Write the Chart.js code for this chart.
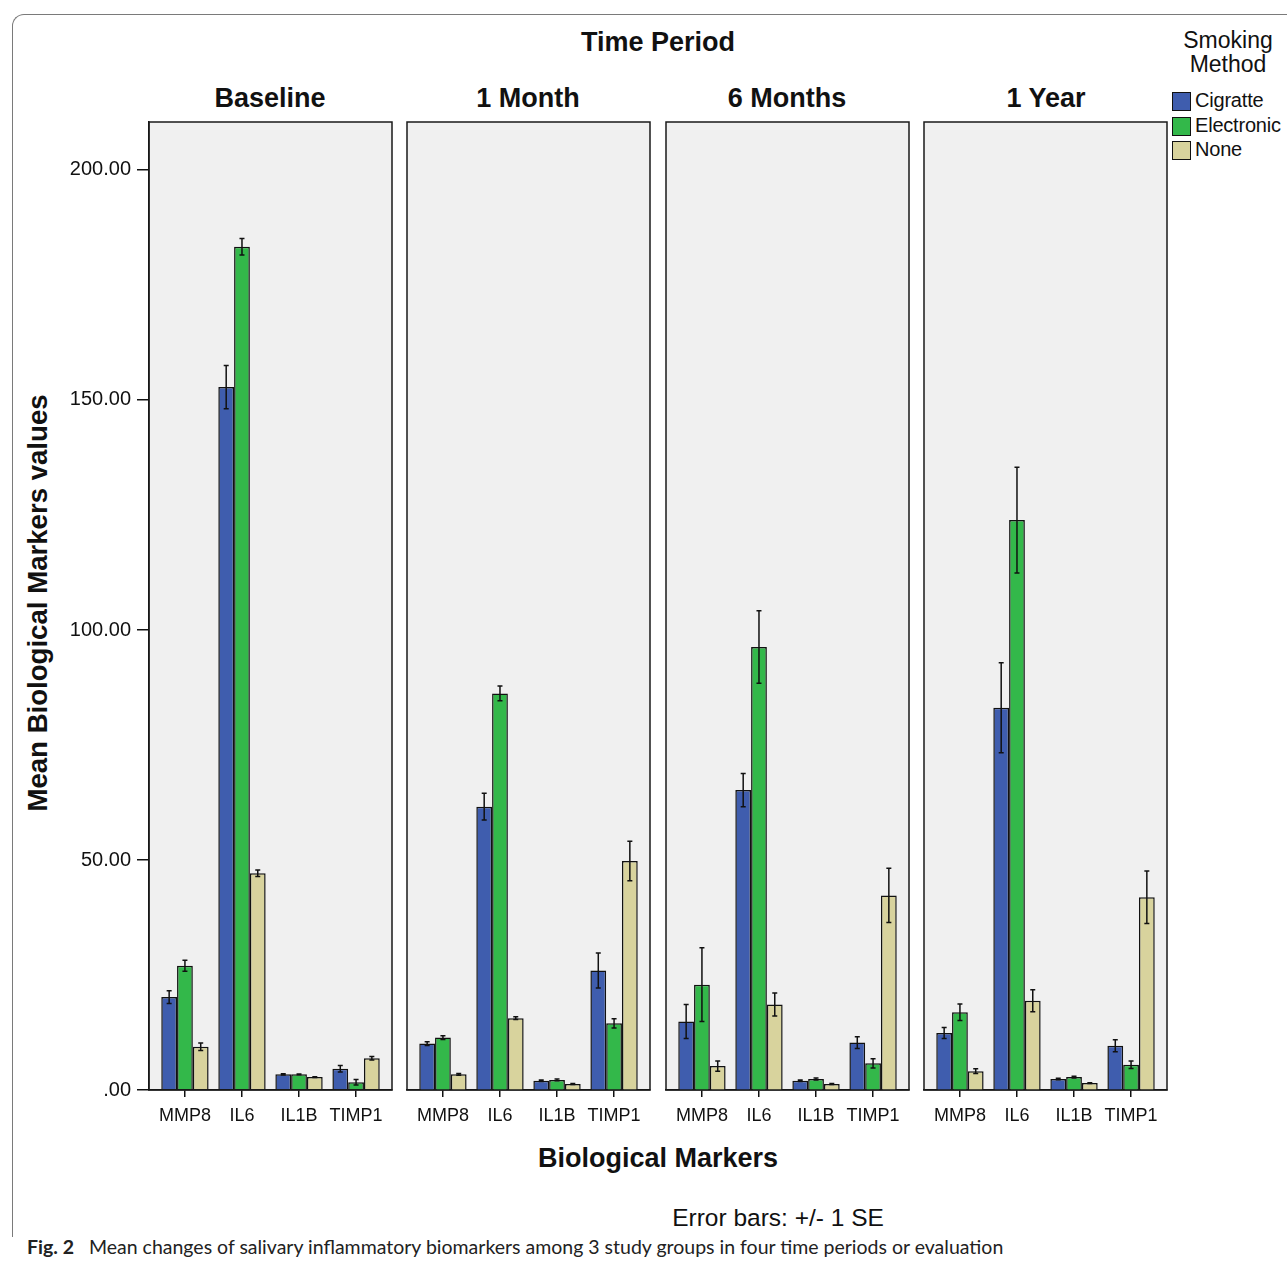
<!DOCTYPE html>
<html><head><meta charset="utf-8">
<script src="https://cdn.jsdelivr.net/npm/chart.js@4/dist/chart.umd.min.js"></script>
<style>
body{margin:0;background:#fff;width:1287px;height:1267px;position:relative;overflow:hidden;font-family:"Liberation Sans",Arial,sans-serif;color:#111;}
canvas{position:absolute;}
.t{position:absolute;white-space:nowrap;transform:translate(-50%,-50%);}
.b{font-weight:bold;font-size:27px;}
.frame{position:absolute;left:12px;top:14px;width:1300px;height:1222px;border-left:1.5px solid #7a7a7a;border-top:1.5px solid #7a7a7a;border-top-left-radius:12px;}
.lg{position:absolute;left:1172px;font-size:20px;line-height:19px;}
.lg span.box{position:absolute;left:0;top:0;width:17px;height:17px;border:1px solid #111;}
.lg span.txt{position:absolute;left:23px;top:-1px;white-space:nowrap;letter-spacing:-0.2px;}
.cap{position:absolute;left:27px;top:1235px;font-family:"Lato","Noto Sans",sans-serif;font-size:19.5px;white-space:nowrap;color:#222;}
</style></head>
<body>
<div class="frame"></div>
<div class="t b" style="left:658px;top:42px;">Time Period</div>
<div class="t b" id="p0" style="left:270px;top:98px;"></div>
<div class="t b" id="p1" style="left:528px;top:98px;"></div>
<div class="t b" id="p2" style="left:787px;top:98px;"></div>
<div class="t b" id="p3" style="left:1046px;top:98px;"></div>
<div class="t b" style="left:38px;top:603px;font-size:27.6px;transform:translate(-50%,-50%) rotate(-90deg);">Mean Biological Markers values</div>
<div class="t b" style="left:658px;top:1158px;">Biological Markers</div>
<div class="t" style="left:778px;top:1218px;font-size:24.5px;">Error bars: +/- 1 SE</div>
<div class="t" style="left:1228px;top:40px;font-size:23px;">Smoking</div>
<div class="t" style="left:1228px;top:64px;font-size:23px;">Method</div>
<div id="legend"></div>
<div class="cap"><b>Fig. 2</b>&nbsp;&nbsp;&nbsp;Mean changes of salivary inflammatory biomarkers among 3 study groups in four time periods or evaluation</div>

<canvas id="c0" width="334" height="1015" style="left:60px;top:120px;"></canvas>
<canvas id="c1" width="247" height="1015" style="left:405px;top:120px;"></canvas>
<canvas id="c2" width="247" height="1015" style="left:664px;top:120px;"></canvas>
<canvas id="c3" width="247" height="1015" style="left:922px;top:120px;"></canvas>

<script>
// ---- data ----
const categories = ['MMP8', 'IL6', 'IL1B', 'TIMP1'];
const periods = ['Baseline', '1 Month', '6 Months', '1 Year'];
const seriesNames = ['Cigratte', 'Electronic', 'None'];
const yTickValues = [0, 50, 100, 150, 200];
const yTickLabels = ['.00', '50.00', '100.00', '150.00', '200.00'];

// rows = periods, columns = categories
const cigaretteMean = [
  [20.2, 152.8, 3.4, 4.6],
  [10.1, 61.6, 2.0, 26.0],
  [14.9, 65.2, 2.0, 10.3],
  [12.4, 83.1, 2.4, 9.6]
];
const cigaretteSE = [
  [1.4, 4.7, 0.15, 0.7],
  [0.4, 2.9, 0.15, 3.8],
  [3.7, 3.6, 0.15, 1.3],
  [1.2, 9.8, 0.15, 1.3]
];
const electronicMean = [
  [27.0, 183.3, 3.4, 1.7],
  [11.4, 86.2, 2.2, 14.5],
  [22.9, 96.3, 2.4, 5.8],
  [16.9, 123.9, 2.8, 5.5]
];
const electronicSE = [
  [1.2, 1.8, 0.1, 0.6],
  [0.4, 1.6, 0.2, 1.0],
  [8.0, 7.9, 0.2, 1.0],
  [1.8, 11.5, 0.2, 0.8]
];
const noneMean = [
  [9.4, 47.1, 2.8, 6.9],
  [3.4, 15.6, 1.3, 49.8],
  [5.2, 18.6, 1.3, 42.3],
  [4.1, 19.4, 1.5, 41.9]
];
const noneSE = [
  [0.8, 0.7, 0.1, 0.4],
  [0.2, 0.3, 0.1, 4.3],
  [1.1, 2.5, 0.1, 5.9],
  [0.5, 2.4, 0.1, 5.7]
];

const colors = ['#3f5dae', '#33b84a', '#d8d39d'];
const FONT = '"Liberation Sans", Arial, sans-serif';

// titles & legend
periods.forEach((p, i) => { document.getElementById('p' + i).textContent = p; });
const lg = document.getElementById('legend');
seriesNames.forEach((n, i) => {
  const d = document.createElement('div');
  d.className = 'lg';
  d.style.top = (92 + i * 24.5) + 'px';
  d.innerHTML = '<span class="box" style="background:' + colors[i] + '"></span><span class="txt">' + n + '</span>';
  lg.appendChild(d);
});

const panelPlugin = {
  id: 'panel',
  beforeDraw(chart) {
    const { ctx, chartArea: a } = chart;
    ctx.save();
    ctx.fillStyle = '#f0f0f0';
    ctx.fillRect(a.left, a.top, a.right - a.left, a.bottom - a.top);
    ctx.restore();
  },
  afterDraw(chart) {
    const { ctx, chartArea: a } = chart;
    ctx.save();
    ctx.strokeStyle = '#1a1a1a';
    ctx.lineWidth = 1.5;
    ctx.strokeRect(a.left, a.top, a.right - a.left, a.bottom - a.top);
    ctx.restore();
  }
};

const errorPlugin = {
  id: 'errbars',
  afterDatasetsDraw(chart) {
    const { ctx } = chart;
    const ys = chart.scales.y;
    ctx.save();
    ctx.strokeStyle = '#111';
    ctx.lineWidth = 1.5;
    chart.data.datasets.forEach((ds, di) => {
      const meta = chart.getDatasetMeta(di);
      meta.data.forEach((bar, i) => {
        const v = ds.data[i].y, e = ds.se[i];
        const y1 = ys.getPixelForValue(v + e);
        const y2 = ys.getPixelForValue(Math.max(v - e, 0));
        ctx.beginPath();
        ctx.moveTo(bar.x, y1); ctx.lineTo(bar.x, y2);
        ctx.moveTo(bar.x - 2.5, y1); ctx.lineTo(bar.x + 2.5, y1);
        ctx.moveTo(bar.x - 2.5, y2); ctx.lineTo(bar.x + 2.5, y2);
        ctx.stroke();
      });
    });
    ctx.restore();
  }
};

function makeChart(id, p, showY) {
  const means = [cigaretteMean[p], electronicMean[p], noneMean[p]];
  const ses = [cigaretteSE[p], electronicSE[p], noneSE[p]];
  return new Chart(document.getElementById(id), {
    type: 'bar',
    data: {
      datasets: seriesNames.map((n, s) => ({
        label: n,
        data: means[s].map((v, i) => ({ x: i, y: v })),
        se: ses[s],
        backgroundColor: colors[s],
        borderColor: '#111',
        borderWidth: 1.5,
        categoryPercentage: 0.83,
        barPercentage: 1.0
      }))
    },
    options: {
      responsive: false,
      animation: false,
      events: [],
      layout: { padding: { top: 2, bottom: 0, left: showY ? 0 : 2, right: 2 } },
      plugins: { legend: { display: false }, tooltip: { enabled: false } },
      scales: {
        x: {
          type: 'linear', min: -0.63, max: 3.63, offset: false,
          afterBuildTicks: s => { s.ticks = categories.map((c, i) => ({ value: i })); },
          afterFit: s => { s.height = 45; s.paddingLeft = 0; s.paddingRight = 0; },
          ticks: { callback: v => categories[v], font: { size: 18, family: FONT }, color: '#111', padding: 8, maxRotation: 0, autoSkip: false },
          grid: { offset: false, drawOnChartArea: false, drawTicks: true, tickLength: 7, color: '#111', lineWidth: 1.5 },
          border: { display: true, color: '#111', width: 1.5 }
        },
        y: {
          min: 0, max: 210.43, display: showY,
          afterBuildTicks: s => { s.ticks = yTickValues.map(v => ({ value: v })); },
          afterFit: s => { s.width = showY ? 89 : 0; s.paddingTop = 0; s.paddingBottom = 0; },
          ticks: { callback: v => yTickLabels[yTickValues.indexOf(v)], font: { size: 20, family: FONT }, color: '#111', padding: 6 },
          grid: { drawOnChartArea: false, drawTicks: true, tickLength: 12, color: '#111', lineWidth: 1.5 },
          border: { display: true, color: '#111', width: 1.5 }
        }
      }
    },
    plugins: [panelPlugin, errorPlugin]
  });
}

periods.forEach((p, i) => makeChart('c' + i, i, i === 0));
</script>
</body></html>
